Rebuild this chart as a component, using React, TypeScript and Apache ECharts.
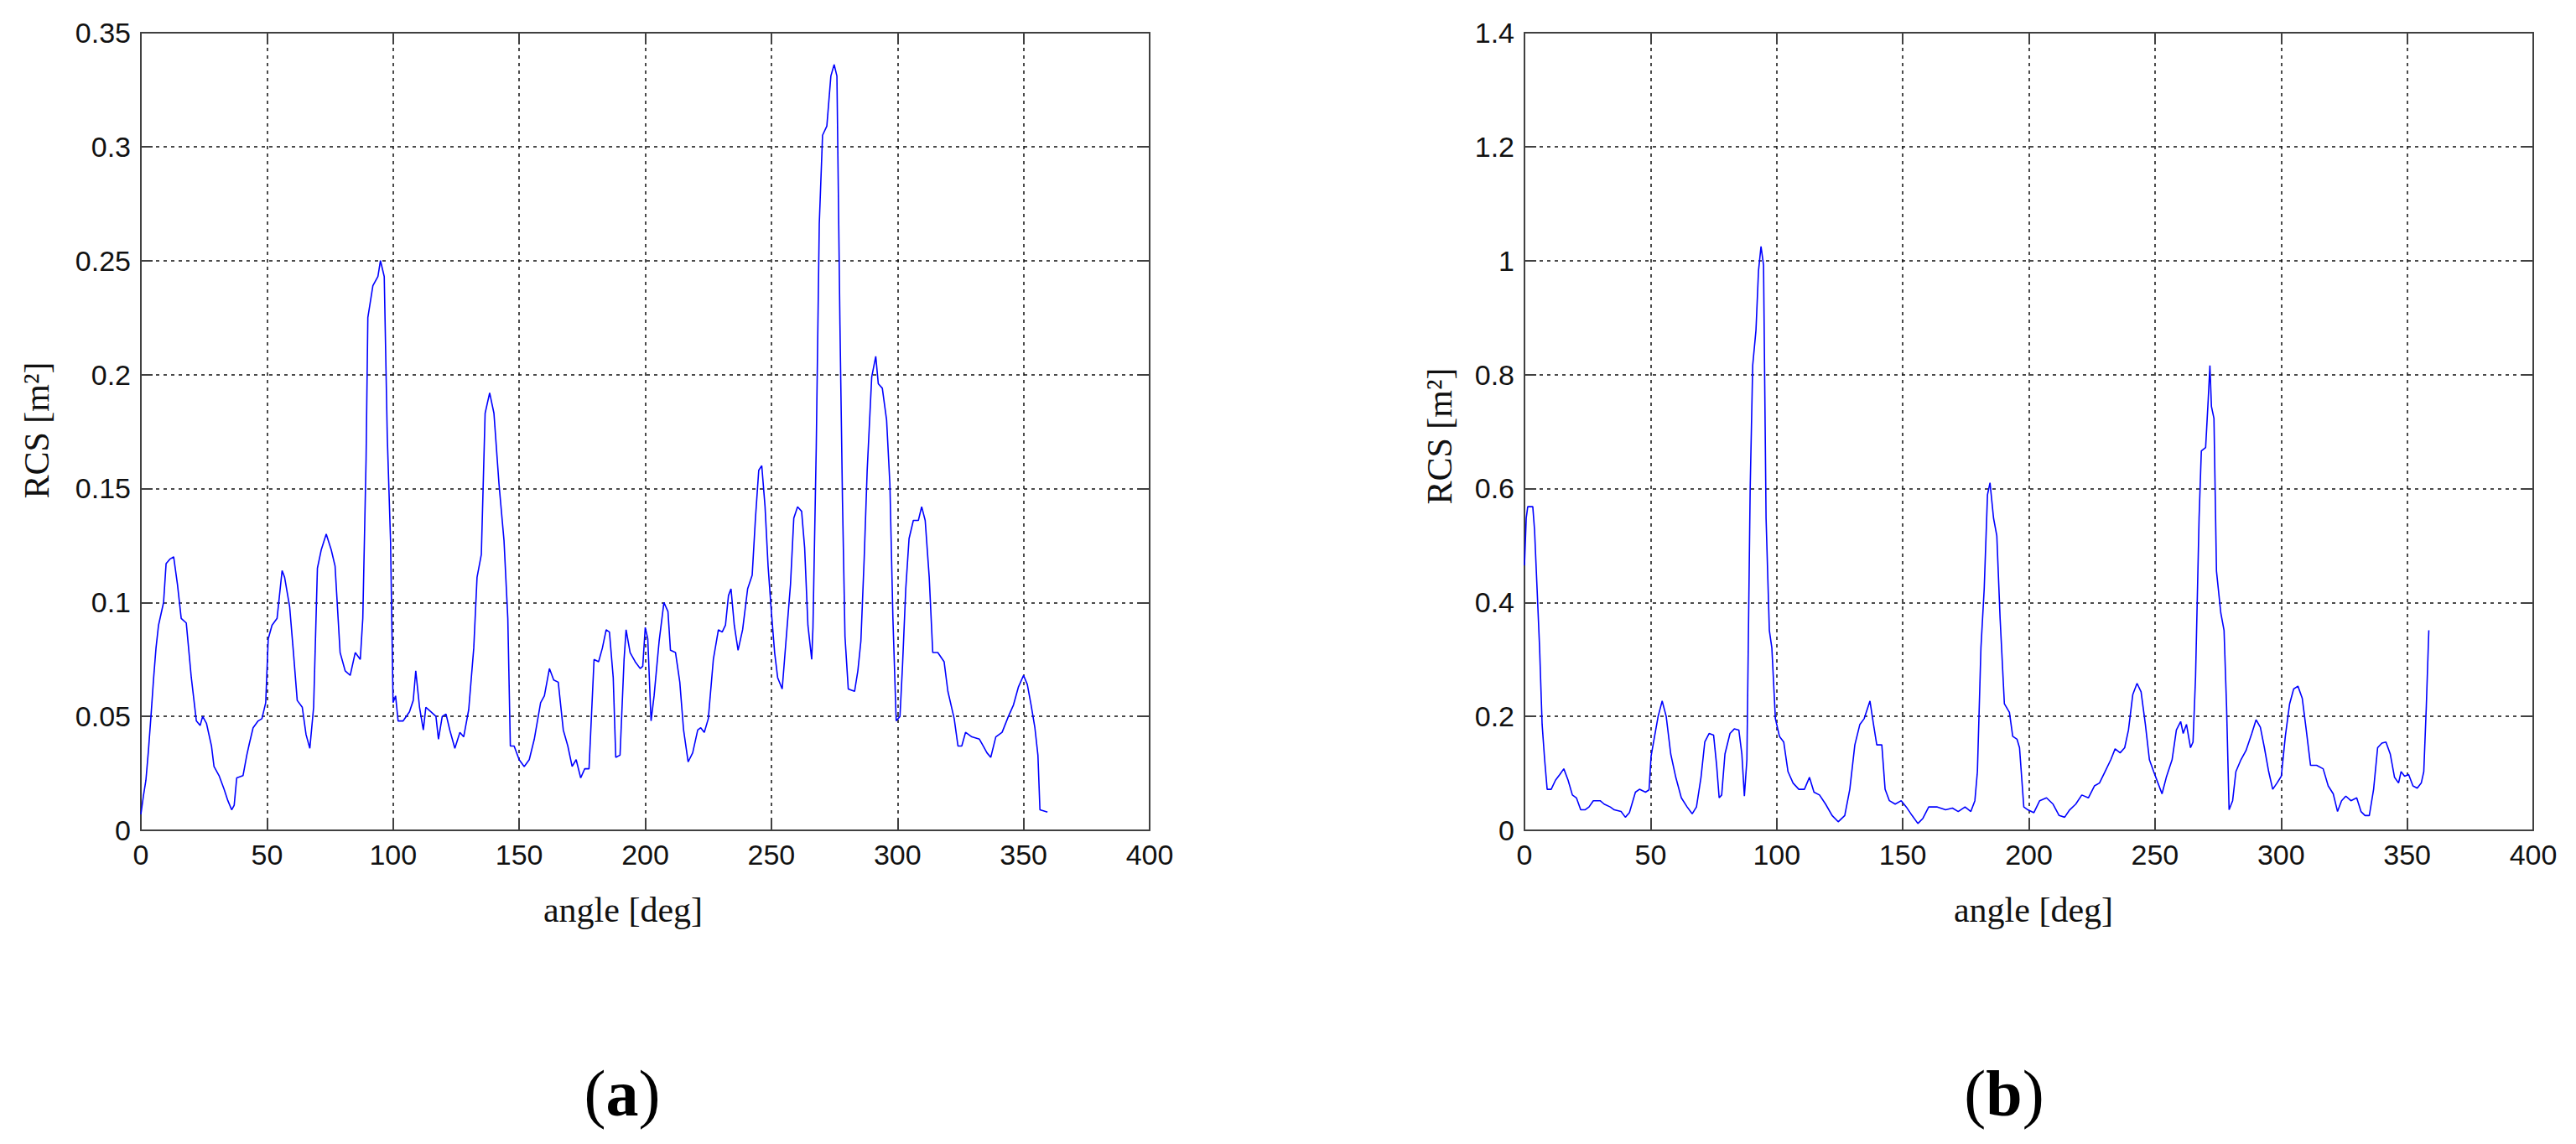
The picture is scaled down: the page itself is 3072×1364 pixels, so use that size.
import React, { useEffect, useRef } from "react";
import * as echarts from "echarts";

// ---- Data (a) ----
const anglesA = [0,1,2,3,4,5,6,7,9,10,11.5,13,14.5,16,18,20,22,23.5,24.5,26,28,29,31,33,34.5,36,37,38,40.5,42,43,44.5,46.5,48,49.5,50.5,52,54,56,57,59,60.5,62,64,65.5,67,68.5,70,71.5,73.5,75.5,77,79,81,83,85,87,88,89.3,90,92,94,95,96.5,97.7,99,100,101,102,104,106.5,108,109,110.5,112,113,115,117,118,119.5,121,122.5,124.5,126.5,128,130,132,133.3,135,136.5,138.3,140,142,144,145.5,146.5,148,150,152,154,156,158.5,160,162,163.7,165.5,167.5,169.3,171,172.6,174.4,176,177.7,179.7,181.5,183,184.5,185.8,187.3,188.3,190,191.6,192.4,194,196,198,199,200,201,202.3,203.5,205.5,207.4,209,210,212,213.7,215.2,217,218.8,220.8,222,223.4,225,227,229,230.5,231.8,233,234,235.3,236.8,238.6,240.6,242.4,243.7,245,246.2,247.5,248.7,250,251.3,252.5,254.3,255.8,257.6,258.9,260.4,262,263.2,264.5,266,266.5,267.8,269,270.3,272,273.6,274.9,276,277.2,278.2,279.2,280.5,283,284.3,285.5,286.8,288,289.8,291.4,292.4,294,295.7,297,298.2,299.5,301,302,303.3,304.6,306.3,308.3,309.6,311,312.6,314,316,318.5,320,322.5,324,325.5,327,329.5,332.5,334,335.5,337,339,341.5,344,346,348,350,351.5,353,354.5,355.7,356.5,359.5];
const rcsA = [0.007,0.015,0.022,0.035,0.05,0.066,0.08,0.09,0.1,0.117,0.119,0.12,0.108,0.093,0.091,0.067,0.048,0.046,0.05,0.047,0.037,0.028,0.024,0.018,0.013,0.009,0.011,0.023,0.024,0.033,0.038,0.045,0.048,0.049,0.056,0.084,0.09,0.093,0.114,0.111,0.098,0.078,0.057,0.054,0.042,0.036,0.054,0.115,0.123,0.13,0.123,0.116,0.078,0.07,0.068,0.078,0.075,0.093,0.163,0.225,0.239,0.243,0.25,0.243,0.173,0.127,0.056,0.059,0.048,0.048,0.052,0.057,0.07,0.054,0.044,0.054,0.052,0.05,0.04,0.05,0.051,0.044,0.036,0.043,0.041,0.053,0.08,0.111,0.121,0.183,0.192,0.183,0.152,0.127,0.093,0.037,0.037,0.031,0.028,0.031,0.04,0.056,0.059,0.071,0.066,0.065,0.044,0.037,0.028,0.031,0.023,0.027,0.027,0.075,0.074,0.08,0.088,0.087,0.067,0.032,0.033,0.075,0.088,0.078,0.074,0.071,0.072,0.089,0.084,0.048,0.059,0.083,0.1,0.096,0.079,0.078,0.065,0.044,0.03,0.034,0.044,0.045,0.043,0.049,0.075,0.088,0.087,0.09,0.103,0.106,0.09,0.079,0.088,0.106,0.112,0.137,0.158,0.16,0.142,0.116,0.096,0.078,0.067,0.062,0.083,0.108,0.137,0.142,0.14,0.124,0.09,0.075,0.089,0.168,0.266,0.305,0.309,0.331,0.336,0.331,0.222,0.145,0.085,0.062,0.061,0.07,0.083,0.119,0.158,0.199,0.208,0.196,0.194,0.18,0.152,0.093,0.048,0.05,0.072,0.106,0.128,0.136,0.136,0.142,0.136,0.111,0.078,0.078,0.074,0.061,0.049,0.037,0.037,0.043,0.041,0.04,0.037,0.034,0.032,0.041,0.043,0.05,0.055,0.063,0.068,0.064,0.055,0.045,0.033,0.009,0.008];

// ---- Data (b) ----
const anglesB = [0,0.7,1.3,3.3,4,5,6,7,8,9,10.6,12.3,14,15.6,17.3,19,20.6,22.3,24,25.6,27.3,30,31.6,34,35.6,38.3,40,41.6,44,45.6,48,49.4,50.2,51.2,53,54.6,56.2,58,60,62.2,64.5,66.5,68.2,70,71.5,73.2,75,76.2,77.2,78.2,79.5,81.5,83.2,85,86.2,87.2,88.2,89.5,90.5,91.8,92.8,93.8,94.8,95.8,97.1,98.1,99.5,101.1,102.8,104.5,106.5,108.8,111,113,114.8,117,119.4,122,124.4,127,129,131,133,134.7,137,138.4,139.7,141.7,143,144.7,147,149.4,151.4,153.7,156,158,160.3,163.7,167,169.7,172,174.7,177,178.6,179.6,181,182.3,183.6,184.6,186,187.3,188.6,190.3,192.3,193.6,195.3,196.3,198,199.6,202,204.3,207,209.6,212,214.2,216.2,218.6,221,223.6,226,228,230.2,232.5,234.2,236.2,238,239.5,241.2,242.9,244.5,246.2,247.8,249.5,251.2,252.8,254.5,256.8,258.5,260.2,261.2,262.5,264.1,265.1,266.1,267.5,268.4,270.1,271.1,271.8,272.4,273.4,274.4,276.1,277.4,278.4,279.4,280.8,282.1,284.1,286.1,288.4,290.1,291.8,293.4,295.1,296.7,298.4,300.1,301.7,303.4,305,306.7,308.4,310,311.7,314.1,316.7,318.7,320.7,322.4,324,325.7,327.7,330,331.7,333.3,335,336.7,338.3,340,341.6,343.3,345,346.6,347.6,349,350.6,352.3,354,355.6,356.6,357.6,358.6];
const rcsB = [0.465,0.548,0.568,0.568,0.527,0.424,0.32,0.186,0.124,0.072,0.072,0.088,0.098,0.108,0.088,0.062,0.057,0.036,0.036,0.041,0.052,0.052,0.046,0.041,0.036,0.033,0.023,0.031,0.067,0.072,0.067,0.071,0.13,0.155,0.2,0.227,0.2,0.134,0.093,0.057,0.041,0.029,0.041,0.093,0.155,0.17,0.167,0.114,0.057,0.062,0.134,0.17,0.178,0.176,0.134,0.06,0.124,0.6,0.816,0.878,0.982,1.025,0.992,0.548,0.351,0.32,0.196,0.165,0.155,0.103,0.083,0.072,0.072,0.093,0.067,0.062,0.046,0.026,0.015,0.026,0.072,0.15,0.186,0.196,0.227,0.186,0.15,0.15,0.072,0.052,0.046,0.052,0.041,0.026,0.012,0.021,0.041,0.041,0.036,0.039,0.033,0.041,0.033,0.052,0.103,0.32,0.424,0.589,0.61,0.548,0.517,0.372,0.222,0.207,0.165,0.16,0.145,0.041,0.036,0.031,0.052,0.057,0.046,0.026,0.023,0.036,0.046,0.062,0.057,0.078,0.083,0.103,0.124,0.143,0.136,0.145,0.176,0.238,0.258,0.243,0.186,0.124,0.103,0.083,0.064,0.093,0.124,0.176,0.191,0.17,0.186,0.145,0.155,0.269,0.548,0.666,0.672,0.754,0.816,0.744,0.723,0.455,0.382,0.351,0.217,0.036,0.052,0.103,0.124,0.14,0.17,0.194,0.181,0.145,0.103,0.072,0.083,0.095,0.165,0.222,0.248,0.253,0.232,0.176,0.114,0.114,0.108,0.078,0.064,0.033,0.052,0.06,0.052,0.057,0.033,0.026,0.026,0.072,0.145,0.153,0.155,0.134,0.093,0.083,0.103,0.095,0.098,0.078,0.074,0.083,0.103,0.217,0.351];

// ---- Axes ----
const xMin = 0, xMax = 400, xStep = 50;
const yMaxA = 0.35, yStepA = 0.05;
const yMaxB = 1.4, yStepB = 0.2;
const xTitle = "angle [deg]";
const yTitle = "RCS [m²]";
const panelLabels = ["a", "b"];

const AXIS_COLOR = "#404040";
const SANS = "Liberation Sans, Arial, sans-serif";
const SERIF = "Liberation Serif, Times New Roman, serif";

function mainX(gridIndex: number) {
  return {
    gridIndex, type: "value", min: xMin, max: xMax, interval: xStep, position: "bottom",
    axisLine: { show: true, onZero: false, lineStyle: { color: AXIS_COLOR, width: 2 } },
    axisTick: { show: true, inside: true, length: 14, lineStyle: { color: AXIS_COLOR, width: 2 } },
    axisLabel: { fontFamily: SANS, fontSize: 34, color: "#111", margin: 12 },
    splitLine: { show: true, lineStyle: { color: "#111", type: [4, 5], width: 1.5 } },
  };
}
function boxX(gridIndex: number) {
  return {
    gridIndex, type: "value", min: xMin, max: xMax, interval: xStep, position: "top",
    axisLine: { show: true, onZero: false, lineStyle: { color: AXIS_COLOR, width: 2 } },
    axisTick: { show: true, inside: true, length: 14, lineStyle: { color: AXIS_COLOR, width: 2 } },
    axisLabel: { show: false }, splitLine: { show: false },
  };
}
function mainY(gridIndex: number, max: number, step: number) {
  return {
    gridIndex, type: "value", min: 0, max, interval: step, position: "left",
    axisLine: { show: true, onZero: false, lineStyle: { color: AXIS_COLOR, width: 2 } },
    axisTick: { show: true, inside: true, length: 14, lineStyle: { color: AXIS_COLOR, width: 2 } },
    axisLabel: { fontFamily: SANS, fontSize: 34, color: "#111", margin: 12 },
    splitLine: { show: true, lineStyle: { color: "#111", type: [4, 5], width: 1.5 } },
  };
}
function boxY(gridIndex: number, max: number, step: number) {
  return {
    gridIndex, type: "value", min: 0, max, interval: step, position: "right",
    axisLine: { show: true, onZero: false, lineStyle: { color: AXIS_COLOR, width: 2 } },
    axisTick: { show: true, inside: true, length: 14, lineStyle: { color: AXIS_COLOR, width: 2 } },
    axisLabel: { show: false }, splitLine: { show: false },
  };
}

function panelLabel(letter: string, x: number, y: number) {
  return {
    type: "text", x, y,
    style: {
      text: `{p|(}{b|${letter}}{p|)}`,
      align: "center", verticalAlign: "middle",
      rich: {
        p: { fontFamily: SERIF, fontSize: 78, fill: "#000" },
        b: { fontFamily: SERIF, fontSize: 78, fontWeight: "bold", fill: "#000" },
      },
    },
  };
}
function titleText(text: string, x: number, y: number, rotation = 0) {
  return {
    type: "text", x, y, rotation,
    style: { text, fontFamily: SERIF, fontSize: 42, fill: "#111", align: "center", verticalAlign: "middle" },
  };
}

export default function App() {
  const ref = useRef<HTMLDivElement>(null);
  useEffect(() => {
    if (!ref.current) return;
    const chart = echarts.init(ref.current, null, { renderer: "svg" });
    const dataA = anglesA.map((a, i) => [a, rcsA[i]]);
    const dataB = anglesB.map((a, i) => [a, rcsB[i]]);
    chart.setOption({
      animation: false,
      backgroundColor: "#fff",
      grid: [
        { left: 168, top: 39, width: 1203, height: 951 },
        { left: 1818, top: 39, width: 1203, height: 951 },
      ],
      xAxis: [mainX(0), boxX(0), mainX(1), boxX(1)],
      yAxis: [mainY(0, yMaxA, yStepA), boxY(0, yMaxA, yStepA), mainY(1, yMaxB, yStepB), boxY(1, yMaxB, yStepB)],
      series: [
        { type: "line", xAxisIndex: 0, yAxisIndex: 0, data: dataA, showSymbol: false, lineStyle: { color: "#0000ff", width: 1.6 }, itemStyle: { color: "#0000ff" } },
        { type: "line", xAxisIndex: 2, yAxisIndex: 2, data: dataB, showSymbol: false, lineStyle: { color: "#0000ff", width: 1.6 }, itemStyle: { color: "#0000ff" } },
      ],
      graphic: [
        titleText(xTitle, 743, 1085),
        titleText(xTitle, 2425, 1085),
        titleText(yTitle, 44, 513, Math.PI / 2),
        titleText(yTitle, 1717, 520, Math.PI / 2),
        panelLabel(panelLabels[0], 742, 1303),
        panelLabel(panelLabels[1], 2390, 1303),
      ],
    });
    return () => chart.dispose();
  }, []);
  return (
    <div
      ref={ref}
      style={{ position: "absolute", left: 0, top: 0, width: 3072, height: 1364, background: "#fff" }}
    />
  );
}
